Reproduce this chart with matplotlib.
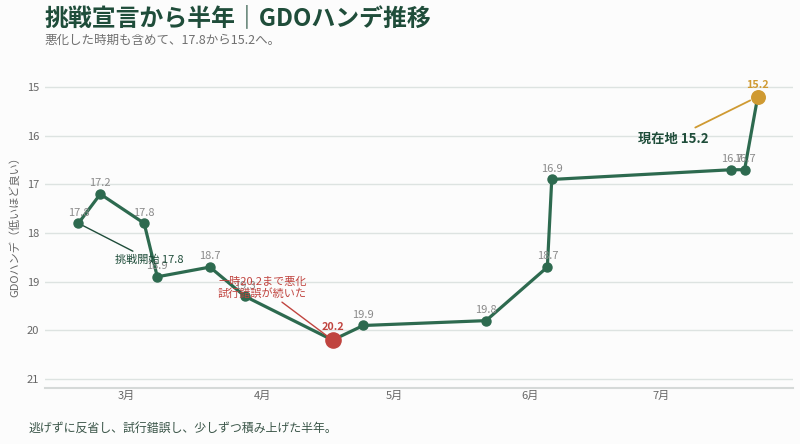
import matplotlib
matplotlib.use("Agg")
import matplotlib.pyplot as plt
import pandas as pd

plt.rcParams['font.family'] = ['Noto Sans CJK JP', 'DejaVu Sans']

# data
dates = ["2025-02-18", "2025-02-23", "2025-03-05", "2025-03-08", "2025-03-20",
         "2025-03-28", "2025-04-17", "2025-04-24", "2025-05-22", "2025-06-05",
         "2025-06-06", "2025-07-17", "2025-07-20", "2025-07-23"]
handicap = [17.8, 17.2, 17.8, 18.9, 18.7, 19.3, 20.2, 19.9, 19.8, 18.7,
            16.9, 16.7, 16.7, 15.2]
month_ticks = ["2025-03-01", "2025-04-01", "2025-05-01", "2025-06-01", "2025-07-01"]
month_labels = ["3月", "4月", "5月", "6月", "7月"]

green = "#2d6a4f"
dark = "#1f4d3a"
red = "#c0443f"
gold = "#cf9a32"
grey = "#8a8a8a"

x = pd.to_datetime(dates)
worst = handicap.index(max(handicap))
last = len(handicap) - 1

fig = plt.figure(figsize=(8, 4.44), dpi=100, facecolor="#fcfcfc")
ax = fig.add_axes([0.056, 0.126, 0.935, 0.739], facecolor="#fcfcfc")

ax.plot(x, handicap, color=green, lw=2.3, marker="o", ms=6.5, zorder=3)
ax.scatter([x[worst]], [handicap[worst]], s=120, color=red, zorder=4)
ax.scatter([x[last]], [handicap[last]], s=95, color=gold, zorder=4)

# value labels
for i, (d, v) in enumerate(zip(x, handicap)):
    if i == worst:
        ax.annotate(f"{v}", (d, v), xytext=(0, 7.5), textcoords="offset points",
                    ha="center", fontsize=7.8, color=red, fontweight="bold")
    elif i == last:
        ax.annotate(f"{v}", (d, v), xytext=(0, 6.5), textcoords="offset points",
                    ha="center", fontsize=7.8, color=gold, fontweight="bold")
    else:
        ax.annotate(f"{v}", (d, v), xytext=(0, 5.5), textcoords="offset points",
                    ha="center", fontsize=8, color=grey)

# callouts
ax.annotate("挑戦開始 17.8", (x[0], handicap[0]),
            xytext=(pd.Timestamp("2025-03-06 06:00"), 18.55), fontsize=8, color=dark,
            ha="center", va="center",
            arrowprops=dict(arrowstyle="-", color=dark, lw=1, shrinkA=1, shrinkB=4))
ax.annotate("一時20.2まで悪化\n試行錯誤が続いた", (x[worst], handicap[worst]),
            xytext=(pd.Timestamp("2025-04-01"), 19.12), fontsize=8, color=red,
            ha="center", va="center", linespacing=1.1,
            arrowprops=dict(arrowstyle="-", color=red, lw=1, shrinkA=1, shrinkB=5))
ax.annotate("現在地 15.2", (x[last], handicap[last]),
            xytext=(pd.Timestamp("2025-07-03 16:00"), 16.06), fontsize=9.5, color=dark,
            fontweight="bold", ha="center", va="center",
            arrowprops=dict(arrowstyle="-", color=gold, lw=1.3, shrinkA=2, shrinkB=6))

ax.set_ylim(21.185, 14.445)
ax.set_yticks([15, 16, 17, 18, 19, 20, 21])
ax.set_xlim(pd.Timestamp("2025-02-10 08:00"), pd.Timestamp("2025-07-31"))
ax.set_xticks(pd.to_datetime(month_ticks))
ax.set_xticklabels(month_labels)
ax.grid(axis="y", color="#dde3e1", lw=1)
ax.set_axisbelow(True)
for s in ["top", "right", "left"]:
    ax.spines[s].set_visible(False)
ax.spines["bottom"].set_color("#d5d9d8")
ax.spines["bottom"].set_linewidth(1.5)
ax.tick_params(length=0, labelsize=8, colors="#666666")
ax.tick_params(axis="y", pad=4)
ax.tick_params(axis="x", pad=2)
ax.set_ylabel("GDOハンデ（低いほど良い）", fontsize=8, color="#666666", labelpad=5)

fig.text(0.056, 0.96, "挑戦宣言から半年｜GDOハンデ推移", fontsize=17.2, fontweight="bold",
         color=dark, va="center")
fig.text(0.056, 0.91, "悪化した時期も含めて、17.8から15.2へ。", fontsize=9,
         color="#707070", va="center")
fig.text(0.036, 0.035, "逃げずに反省し、試行錯誤し、少しずつ積み上げた半年。", fontsize=8.6,
         color="#3a5548", va="center")

fig.savefig("out.png", dpi=100, facecolor=fig.get_facecolor())
